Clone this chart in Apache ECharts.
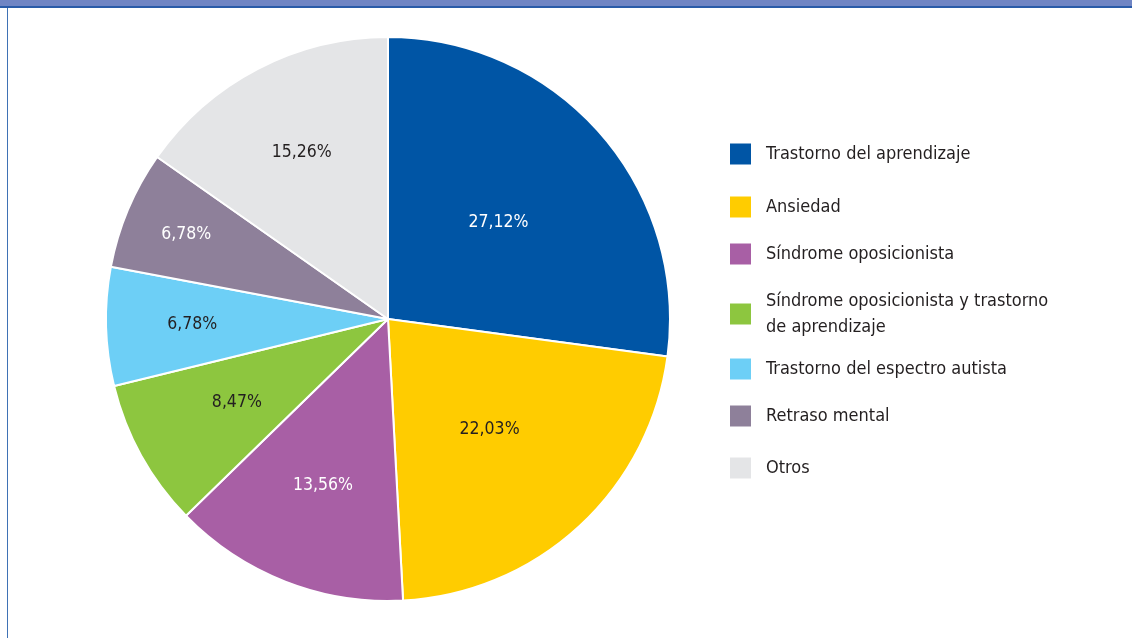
<!DOCTYPE html>
<html><head><meta charset="utf-8">
<script src="https://cdn.jsdelivr.net/npm/echarts@6/dist/echarts.min.js"></script>
<style>html,body{margin:0;padding:0;background:#fff}#c{width:1132px;height:638px}</style>
</head><body><div id="c"></div>
<script>
const categories = ["Trastorno del aprendizaje","Ansiedad","Síndrome oposicionista","Síndrome oposicionista y trastorno de aprendizaje","Trastorno del espectro autista","Retraso mental","Otros"];
const values = [27.12,22.03,13.56,8.47,6.78,6.78,15.26];
const colors = ["#0055a5","#ffcc00","#a85fa5","#8dc63f","#6dcff6","#8e809a","#e4e5e7"];
const labelColors = ["#ffffff","#231f20","#ffffff","#231f20","#231f20","#ffffff","#231f20"];
// radial position of each value label, as a fraction of the pie radius
const labelRadius = [0.51,0.52,0.62,0.60,0.68,0.76,0.65];
const legendTops = [141,194,241,288,356,403,455];
const FONT = "'Liberation Sans Narrow','DejaVu Sans Condensed',sans-serif";
const CX = 388, CY = 319, R = 282;
const chart = echarts.init(document.getElementById('c'));
const legends = categories.map((n,i)=>({
  data:[n], left:728, top:legendTops[i], orient:'vertical',
  itemWidth:23, itemHeight:23, icon:'rect', itemGap:0, padding:0, selectedMode:false,
  formatter: nm => nm === categories[3] ? "Síndrome oposicionista y trastorno\nde aprendizaje" : nm,
  textStyle:{fontFamily:FONT, fontSize:18, color:'#231f20', padding:[0,0,0,9], lineHeight:26, verticalAlign:'top'}
}));
chart.setOption({
  animation:false,
  color: colors,
  graphic:[
    {type:'rect', shape:{x:0,y:0,width:1132,height:6}, style:{fill:'#7085c4'}},
    {type:'rect', shape:{x:0,y:6,width:1132,height:2}, style:{fill:'#2a5ba8'}},
    {type:'rect', shape:{x:7,y:8,width:1,height:630}, style:{fill:'#3f72b5'}}
  ],
  legend: legends,
  series:[{
    type:'pie', center:[CX,CY], radius:[0,R], startAngle:90, clockwise:true,
    itemStyle:{borderColor:'#fff', borderWidth:2},
    label:{show:true, position:'inside', fontFamily:FONT, fontSize:17.5,
      formatter: p => p.value.toFixed(2).replace('.',',') + '%'},
    labelLine:{show:false},
    labelLayout: function(p){
      const r = p.labelRect;
      const lx = r.x + r.width/2, ly = r.y + r.height/2;
      const f = labelRadius[p.dataIndex] / 0.5;
      return {dx:(lx-CX)*(f-1), dy:(ly-CY)*(f-1)};
    },
    emphasis:{disabled:true},
    data: categories.map((n,i)=>({name:n, value:values[i], label:{color:labelColors[i]}}))
  }]
});
</script></body></html>
